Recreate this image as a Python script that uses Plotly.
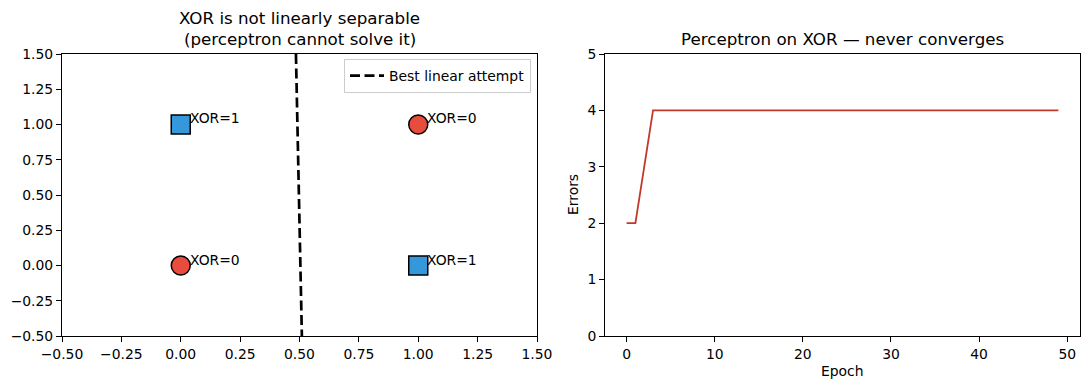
import plotly.graph_objects as go

# Data
pts_x = [0, 0, 1, 1]
pts_y = [0, 1, 0, 1]
xor_vals = [0, 1, 1, 0]
line_x = [0.485, 0.51]
line_y = [1.5, -0.5]
epochs = list(range(50))
errors = [2, 2, 3] + [4] * 47

W, H = 1089, 390
FONT = "DejaVu Sans"
TICK = 13.9
TITLE = 16.7

fig = go.Figure()

# Left: dashed line
fig.add_trace(go.Scatter(x=line_x, y=line_y, mode="lines",
                         line=dict(color="black", width=2.7, dash="10px,4.5px"),
                         name="Best linear attempt", xaxis="x", yaxis="y", showlegend=True))

cx = [x for x, v in zip(pts_x, xor_vals) if v == 0]
cy = [y for y, v in zip(pts_y, xor_vals) if v == 0]
sx = [x for x, v in zip(pts_x, xor_vals) if v == 1]
sy = [y for y, v in zip(pts_y, xor_vals) if v == 1]
fig.add_trace(go.Scatter(x=cx, y=cy, mode="markers", showlegend=False,
                         marker=dict(symbol="circle", size=19, color="#e74c3c",
                                     line=dict(color="black", width=1.5)),
                         xaxis="x", yaxis="y"))
fig.add_trace(go.Scatter(x=sx, y=sy, mode="markers", showlegend=False,
                         marker=dict(symbol="square", size=19, color="#3498db",
                                     line=dict(color="black", width=1.5)),
                         xaxis="x", yaxis="y"))

annotations = []
for x, y, v in zip(pts_x, pts_y, xor_vals):
    annotations.append(dict(x=x + 0.03, y=y, xref="x", yref="y", text=f"XOR={v}",
                            showarrow=False, xanchor="left", yanchor="middle", yshift=6,
                            font=dict(family=FONT, size=TICK, color="black")))

# Right: errors
fig.add_trace(go.Scatter(x=epochs, y=errors, mode="lines", showlegend=False,
                         line=dict(color="#c0392b", width=1.8), xaxis="x2", yaxis="y2"))

L0, L1 = 62 / W, 537 / W
R0, R1 = 605 / W, 1080 / W
Y0, Y1 = 1 - 336 / H, 1 - 54 / H

axis_common = dict(showline=True, linecolor="black", linewidth=1, mirror=True,
                   ticks="outside", ticklen=5, tickcolor="black", showgrid=False,
                   zeroline=False, automargin=False,
                   tickfont=dict(family=FONT, size=TICK, color="black"))

ticks_l = [-0.5, -0.25, 0, 0.25, 0.5, 0.75, 1, 1.25, 1.5]
ticks_l_txt = ["−0.50", "−0.25", "0.00", "0.25", "0.50", "0.75", "1.00", "1.25", "1.50"]

fig.update_layout(
    width=W, height=H, margin=dict(l=0, r=0, t=0, b=0, autoexpand=False),
    plot_bgcolor="white", paper_bgcolor="white",
    font=dict(family=FONT, color="black"),
    xaxis=dict(domain=[L0, L1], range=[-0.5, 1.5], tickvals=ticks_l, ticktext=ticks_l_txt,
               anchor="y", **axis_common),
    yaxis=dict(domain=[Y0, Y1], range=[-0.5, 1.5], tickvals=ticks_l, ticktext=ticks_l_txt,
               anchor="x", **axis_common),
    xaxis2=dict(domain=[R0, R1], range=[-2.45, 51.45], tickvals=[0, 10, 20, 30, 40, 50],
                anchor="y2", **axis_common),
    yaxis2=dict(domain=[Y0, Y1], range=[0, 5], tickvals=[0, 1, 2, 3, 4, 5],
                anchor="x2", **axis_common),
    legend=dict(x=531 / W, y=1 - 59 / H, xanchor="right", yanchor="top",
                bgcolor="white", bordercolor="#cccccc", borderwidth=1,
                font=dict(family=FONT, size=TICK, color="black"),
                itemwidth=34),
    showlegend=True,
)

annotations += [
    dict(x=(L0 + L1) / 2, y=1 - 18 / H, xref="paper", yref="paper", text="XOR is not linearly separable",
         showarrow=False, xanchor="center", yanchor="middle", font=dict(family=FONT, size=TITLE)),
    dict(x=(L0 + L1) / 2, y=1 - 39 / H, xref="paper", yref="paper", text="(perceptron cannot solve it)",
         showarrow=False, xanchor="center", yanchor="middle", font=dict(family=FONT, size=TITLE)),
    dict(x=(R0 + R1) / 2, y=1 - 39 / H, xref="paper", yref="paper", text="Perceptron on XOR — never converges",
         showarrow=False, xanchor="center", yanchor="middle", font=dict(family=FONT, size=TITLE)),
    dict(x=(R0 + R1) / 2, y=1 - 371 / H, xref="paper", yref="paper", text="Epoch",
         showarrow=False, xanchor="center", yanchor="middle", font=dict(family=FONT, size=TICK)),
    dict(x=573 / W, y=(Y0 + Y1) / 2, xref="paper", yref="paper", text="Errors", textangle=-90,
         showarrow=False, xanchor="center", yanchor="middle", font=dict(family=FONT, size=TICK)),
]
fig.update_layout(annotations=annotations)

fig.write_html("out.html", config={"displayModeBar": False},
               post_script="document.body.style.margin='0';document.body.style.overflow='hidden';")
